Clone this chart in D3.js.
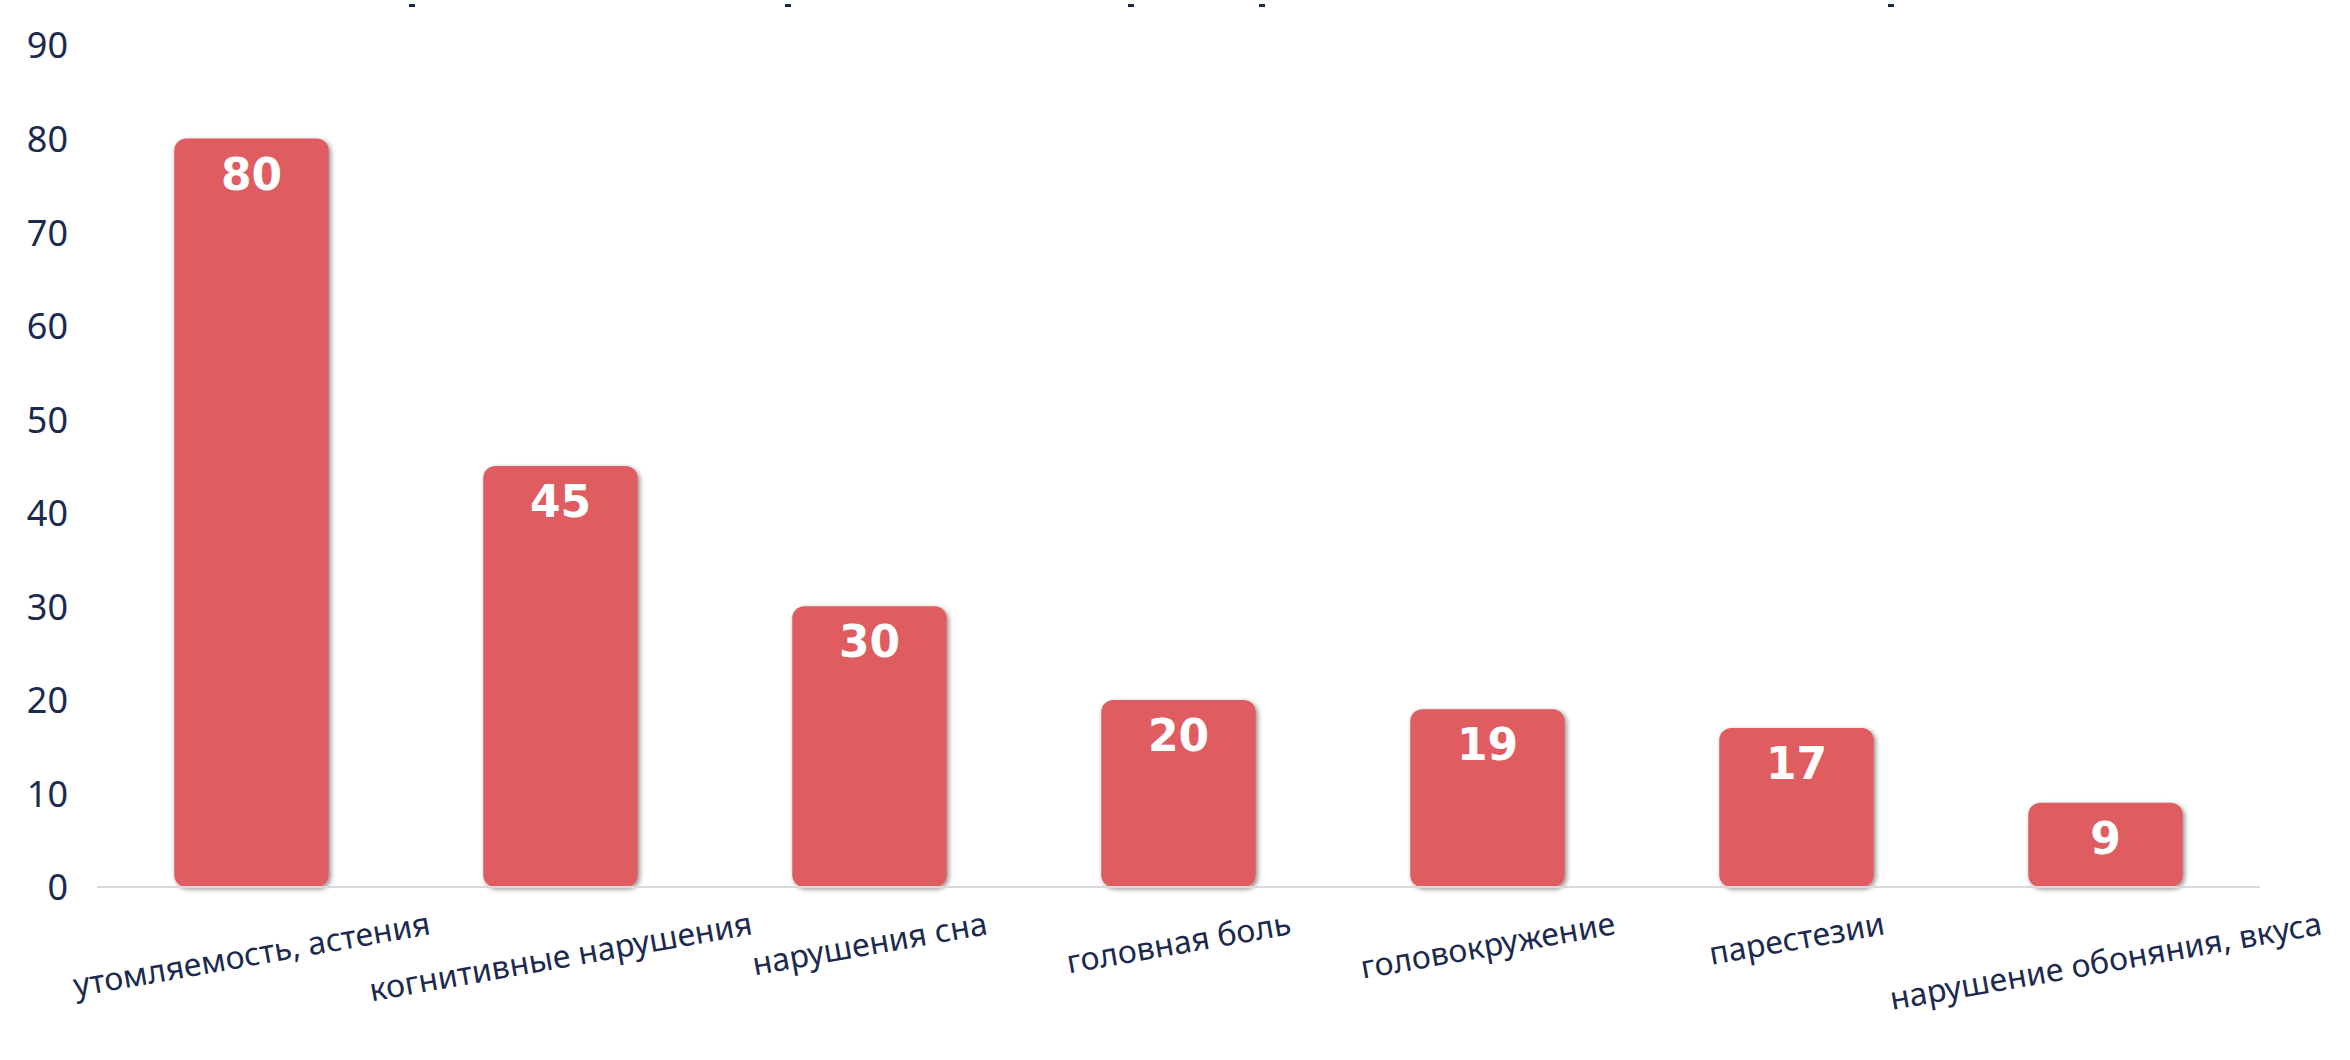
<!DOCTYPE html>
<html>
<head>
<meta charset="utf-8">
<script src="https://cdn.jsdelivr.net/npm/d3@7"></script>
<style>
  html, body { margin: 0; padding: 0; background: #fff; }
  svg { display: block; }
</style>
</head>
<body>
<svg id="chart" width="2350" height="1060"></svg>
<script>
// symptom categories and share of patients (%)
const categories = [
  "утомляемость, астения",
  "когнитивные нарушения",
  "нарушения сна",
  "головная боль",
  "головокружение",
  "парестезии",
  "нарушение обоняния, вкуса"
];
const values = [80, 45, 30, 20, 19, 17, 9];
const yTicks = [0, 10, 20, 30, 40, 50, 60, 70, 80, 90];

// leftovers of a cropped line above the chart (x of each small dash)
const topDashes = [412, 788, 1131, 1262, 1891];

const width = 2350, height = 1060;
const margin = { top: 45, right: 90, bottom: 173, left: 97 };
const navy = "#1b2a4e";
const barColor = "#df5b60";
const angle = -10;

const svg = d3.select("#chart");

// soft shadow behind the bars
const defs = svg.append("defs");
defs.append("filter")
    .attr("id", "shadow")
    .attr("x", "-20%").attr("y", "-20%")
    .attr("width", "140%").attr("height", "140%")
  .append("feDropShadow")
    .attr("dx", 2).attr("dy", 2)
    .attr("stdDeviation", 2.5)
    .attr("flood-color", "#000")
    .attr("flood-opacity", 0.45);

const x = d3.scaleBand()
    .domain(categories)
    .range([margin.left, width - margin.right])
    .paddingInner(0.5)
    .paddingOuter(0.25);

const y = d3.scaleLinear()
    .domain([0, 90])
    .range([height - margin.bottom, margin.top]);

// y axis labels only, no line or ticks
const yAxis = svg.append("g")
    .attr("transform", `translate(${margin.left - 29},0)`)
    .call(d3.axisLeft(y).tickValues(yTicks).tickSize(0).tickPadding(0));
yAxis.select(".domain").remove();
yAxis.selectAll("text")
    .attr("fill", navy)
    .attr("font-family", "'Noto Sans', sans-serif")
    .attr("font-size", 36)
    .attr("dy", "0.36em");

// bars
svg.append("g")
  .selectAll("rect")
  .data(values)
  .join("rect")
    .attr("x", (d, i) => x(categories[i]))
    .attr("y", d => y(d))
    .attr("width", x.bandwidth())
    .attr("height", d => y(0) - y(d))
    .attr("rx", 12)
    .attr("fill", barColor)
    .attr("filter", "url(#shadow)");

// baseline
svg.append("line")
    .attr("x1", margin.left)
    .attr("x2", width - margin.right)
    .attr("y1", y(0))
    .attr("y2", y(0))
    .attr("stroke", "#d9d9d9")
    .attr("stroke-width", 2);

// value labels inside the bars
svg.append("g")
  .selectAll("text")
  .data(values)
  .join("text")
    .attr("x", (d, i) => x(categories[i]) + x.bandwidth() / 2)
    .attr("y", d => y(d) + 51)
    .attr("text-anchor", "middle")
    .attr("fill", "#fff")
    .attr("font-family", "'DejaVu Sans', sans-serif")
    .attr("font-weight", "bold")
    .attr("font-size", 44)
    .text(d => d);

// rotated category labels, box top kept on one line
const rad = Math.abs(angle) * Math.PI / 180;
const catLabels = svg.append("g")
  .selectAll("text")
  .data(categories)
  .join("text")
    .attr("text-anchor", "middle")
    .attr("dominant-baseline", "central")
    .attr("fill", navy)
    .attr("font-family", "'Noto Sans', sans-serif")
    .attr("font-size", 32)
    .text(d => d);

catLabels.each(function (d) {
  const half = this.getComputedTextLength() / 2;
  const cx = x(d) + x.bandwidth() / 2;
  const cy = y(0) + 19 + half * Math.sin(rad) + 16 * Math.cos(rad);
  d3.select(this)
    .attr("x", cx)
    .attr("y", cy)
    .attr("transform", `rotate(${angle},${cx},${cy})`);
});

// small dashes along the top edge
svg.append("g")
  .selectAll("rect")
  .data(topDashes)
  .join("rect")
    .attr("x", d => d - 3)
    .attr("y", 4)
    .attr("width", 6)
    .attr("height", 3)
    .attr("fill", navy);
</script>
</body>
</html>
